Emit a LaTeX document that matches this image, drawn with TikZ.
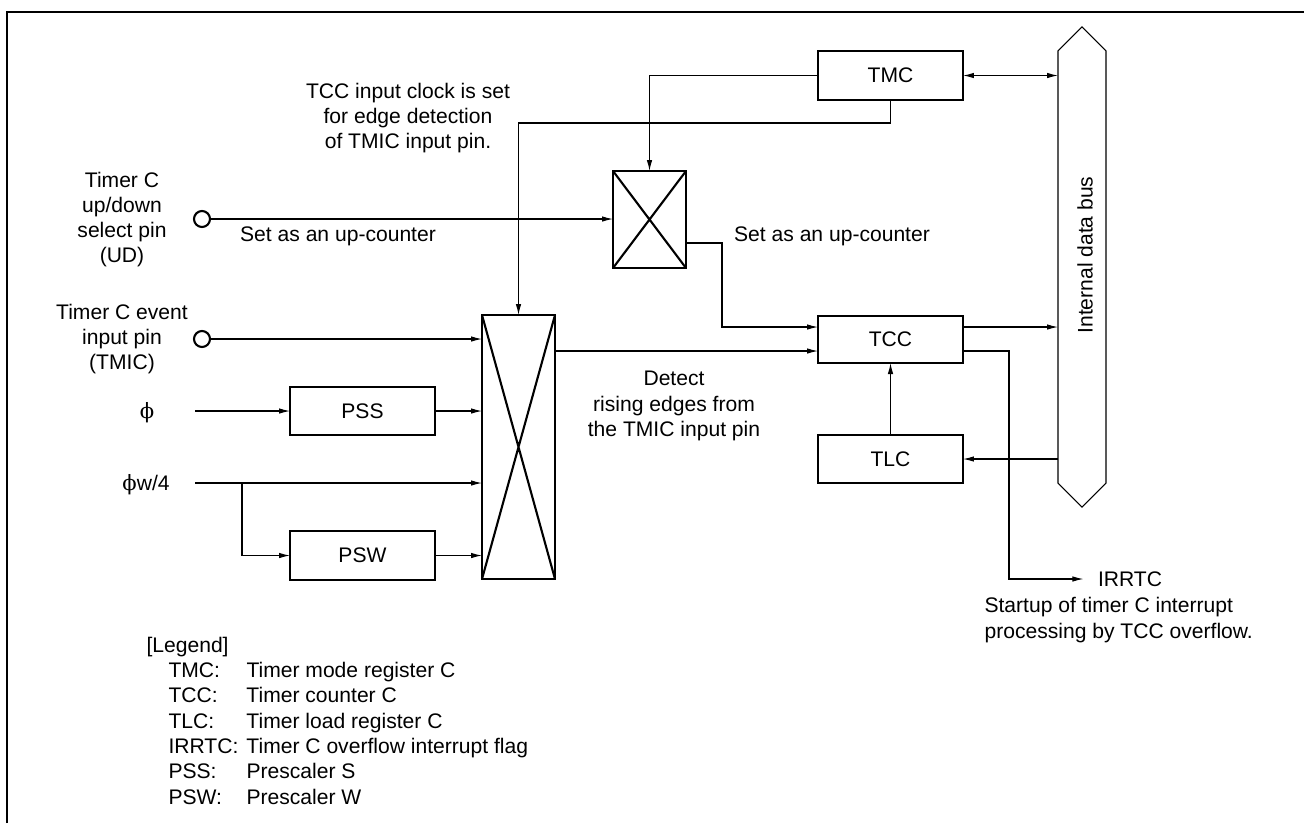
\documentclass[tikz,border=0pt]{standalone}
\usepackage{fontspec}
\setmainfont{Liberation Sans}
\newfontfamily\phifont{DejaVu Serif}
\usetikzlibrary{arrows.meta}

\begin{document}
\begin{tikzpicture}[x=0.02cm, y=-0.02cm, >={Latex[length=2.2mm,width=1.1mm]},
        font=\fontsize{12}{14.4}\selectfont, line width=0.6pt,
        reg/.style={draw, rectangle, line width=1.2pt, outer sep=0pt, minimum width=2.9cm, minimum height=0.96cm},
        sel/.style={draw, rectangle, line width=1.2pt, outer sep=0pt, minimum width=1.46cm},
        pin/.style={draw, circle, line width=1.2pt, inner sep=0pt, minimum size=0.32cm}]
        \useasboundingbox (0,0) rectangle (1304,823);
        % Frame
        \draw[line width=1.2pt] (7,823) -- (7,12) -- (1304,12);

        % Registers
        \node[reg, minimum height=0.98cm] (tmc) at (890.5,75.5) {TMC};
        \node[reg, minimum height=0.94cm] (tcc) at (890.5,339.5) {TCC};
        \node[reg] (tlc) at (890.5,459) {TLC};
        \node[reg] (pss) at (362.5,411) {PSS};
        \node[reg, minimum height=0.98cm] (psw) at (362.5,555.5) {PSW};

        % Selectors
        \node[sel, minimum height=1.94cm] (udsel) at (649.5,219.5) {};
        \node[sel, minimum height=5.28cm] (clksel) at (518.5,447) {};
        \draw[line width=1.2pt] (udsel.north west) -- (udsel.south east) (udsel.south west) -- (udsel.north east);
        \draw[line width=1.2pt] (clksel.north west) -- (clksel.south east) (clksel.south west) -- (clksel.north east);

        % Internal data bus
        \node[minimum width=0.96cm, minimum height=8.65cm, outer sep=0pt] (bus) at (1082,267) {};
        \draw (bus.south west) -- (bus.north west) -- ([yshift=0.48cm]bus.north) -- (bus.north east)
            -- (bus.south east) -- ([yshift=-0.48cm]bus.south) -- cycle;
        \node[rotate=90] (buslabel) at (1085,255) {Internal data bus};

        % Pins and clock inputs
        \node[pin] (ud) at (202,219) {};
        \node[pin] (tmic) at (202,339) {};
        \node[align=center] (udtext) at (122,219.5) {Timer C\\up/down\\select pin\\(UD)};
        \node[align=center] (tmictext) at (122,339) {Timer C event\\input pin\\(TMIC)};
        \node (phi) at (147,413) {\phifont ϕ};
        \node (phiw) at (146,485) {{\phifont ϕ}w/4};
        \coordinate (phiin) at (195,411);
        \coordinate (phiwin) at (195,483);
        \coordinate (branch) at (242,483);

        % Notes
        \node[align=center] (clknote) at (408,118) {TCC input clock is set\\for edge detection\\of TMIC input pin.};
        \node (upnote1) at (338,236) {Set as an up-counter};
        \node (upnote2) at (832,236) {Set as an up-counter};
        \node[align=center] (edgenote) at (674,406) {Detect\\rising edges from\\the TMIC input pin};
        \node[inner xsep=8pt] (irrtc) at (1130,579) {IRRTC};
        \node[align=left, anchor=west, inner sep=0pt] (irqnote) at (984,620) {Startup of timer C interrupt\\processing by TCC overflow.};

        % Legend
        \node[anchor=north west, inner sep=0pt] (legend) at (146,634) {\begin{tabular}{@{}p{0.44cm}@{}p{1.56cm}@{}l@{}}
            \multicolumn{3}{@{}l@{}}{[Legend]}\\
            & TMC: & Timer mode register C\\
            & TCC: & Timer counter C\\
            & TLC: & Timer load register C\\
            & IRRTC: & Timer C overflow interrupt flag\\
            & PSS: & Prescaler S\\
            & PSW: & Prescaler W
        \end{tabular}};

        % Connections
        \coordinate (tccin) at ([yshift=-0.23cm]tcc.west);
        \coordinate (tccbus) at ([yshift=0.25cm]tcc.east);
        \coordinate (tccout) at ([yshift=-0.23cm]tcc.east);
        \draw[->] (tmc.west) -| (udsel.north);
        \draw[->] (tmc.south) -- ++(0,23) -| (clksel.north);
        \draw[->] (ud.east) -- (ud.east -| udsel.west);
        \draw[->] ([yshift=-0.47cm]udsel.east) -- ++(36,0) |- ([yshift=0.25cm]tcc.west);
        \draw[->] (tmic.east) -- (tmic.east -| clksel.west);
        \draw[->] (phiin) -- (pss.west);
        \draw[->] (pss.east) -- (pss.east -| clksel.west);
        \draw[->] (phiwin) -- (phiwin -| clksel.west);
        \draw[->] (branch) |- (psw.west);
        \draw[->] (psw.east) -- (psw.east -| clksel.west);
        \draw[->] (tccin -| clksel.east) -- (tccin);
        \draw[<->] (tmc.east) -- (tmc.east -| bus.west);
        \draw[->] (tccbus) -- (tccbus -| bus.west);
        \draw[->] (tccout) -- ++(46,0) |- (irrtc.west);
        \draw[->] (tlc.north) -- (tcc.south);
        \draw[->] (tlc.east -| bus.west) -- (tlc.east);
    \end{tikzpicture}
\end{document}
